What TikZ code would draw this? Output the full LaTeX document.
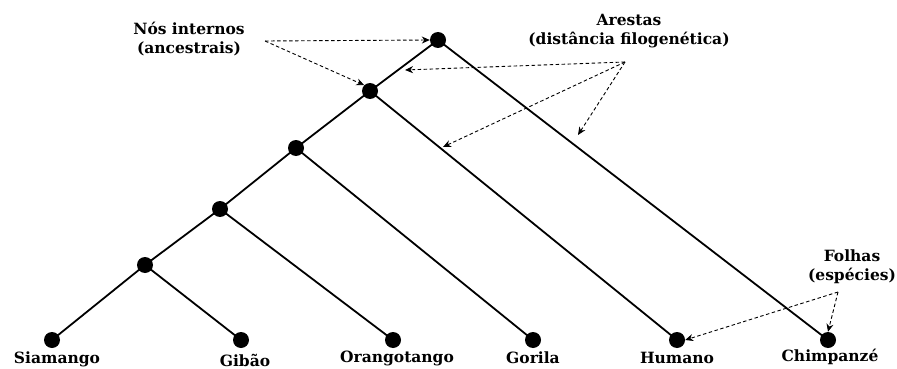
\documentclass[tikz,border=0pt]{standalone}
\usepackage{fontspec}
\setmainfont{DejaVu Serif}
\usetikzlibrary{arrows.meta}
\begin{document}
\begin{tikzpicture}[x=1pt,y=-1pt,
  dot/.style={circle,fill=black,inner sep=0pt,minimum size=16pt},
  edge/.style={line width=1.8pt},
  lab/.style={font=\bfseries\fontsize{15.5}{19}\selectfont,align=center,inner sep=0pt},
  ptr/.style={line width=0.9pt,dash pattern=on 3.5pt off 2.5pt,-{Stealth[length=8pt,width=7pt]}}]
\useasboundingbox (0,0) rectangle (897,369);
\node[dot] (r) at (438,40) {};
\node[dot] (n1) at (370,91) {};
\node[dot] (n2) at (296,148) {};
\node[dot] (n3) at (220,209) {};
\node[dot] (n4) at (145,265) {};
\node[dot] (sia) at (52,340) {};
\node[dot] (gib) at (241,340) {};
\node[dot] (ora) at (393,340) {};
\node[dot] (gor) at (533,340) {};
\node[dot] (hum) at (677,340) {};
\node[dot] (chi) at (828,340) {};
\draw[edge] (r.center) -- (n1.center) -- (n2.center) -- (n3.center) -- (n4.center) -- (sia.center);
\draw[edge] (r.center) -- (chi.center);
\draw[edge] (n1.center) -- (hum.center);
\draw[edge] (n2.center) -- (gor.center);
\draw[edge] (n3.center) -- (ora.center);
\draw[edge] (n4.center) -- (gib.center);
\node[lab] (lsia) at (57,359) {Siamango};
\node[lab] (lgib) at (245,360) {Gibão};
\node[lab] (lora) at (397,358) {Orangotango};
\node[lab] (lgor) at (533,358) {Gorila};
\node[lab] (lhum) at (677,358) {Humano};
\node[lab] (lchi) at (830,357) {Chimpanzé};
\node[lab] (nos) at (189,39) {Nós internos\\(ancestrais)};
\node[lab] (are) at (629,31) {Arestas\\(distância filogenética)};
\node[lab] (fol) at (852,267) {Folhas\\(espécies)};
\coordinate (ns) at (265,41);
\coordinate (as) at (625,62);
\coordinate (fs) at (838,292);
\coordinate (e1) at (405,70);
\coordinate (e2) at (443,147);
\coordinate (e3) at (578,135);
\draw[ptr] (ns) -- (r.west);
\draw[ptr] (ns) -- (n1.north west);
\draw[ptr] (as) -- (e1);
\draw[ptr] (as) -- (e2);
\draw[ptr] (as) -- (e3);
\draw[ptr] (fs) -- (hum.east);
\draw[ptr] (fs) -- (chi.north);
\end{tikzpicture}
\end{document}
